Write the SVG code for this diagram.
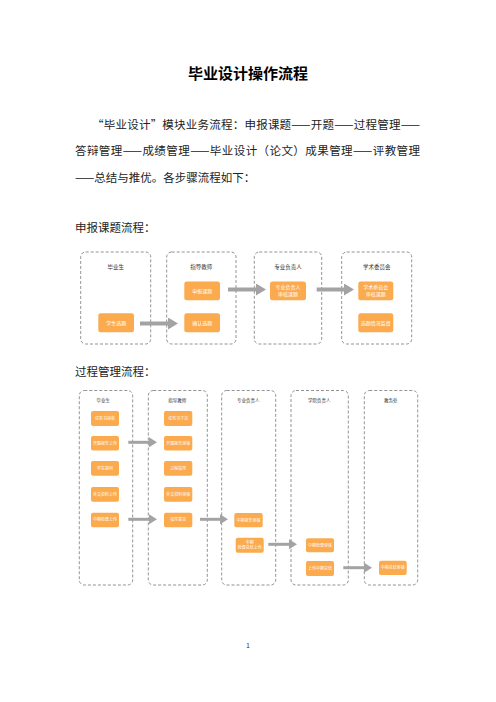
<svg xmlns="http://www.w3.org/2000/svg" width="496" height="702" viewBox="0 0 496 702">
<defs>
<style>
text{font-family:"Noto Sans CJK SC","Liberation Sans",sans-serif;}
.title{font-size:15px;font-weight:bold;fill:#000;text-anchor:middle;}
.para{font-size:11.5px;fill:#222;}
.lane{fill:#fff;stroke:#777;stroke-width:0.8;stroke-dasharray:3,2;}
.box{fill:#FBAA4E;}
.lt1{font-size:5.5px;fill:#333;text-anchor:middle;}
.bt1{font-size:5px;fill:#fff;text-anchor:middle;}
.lt2{font-size:4.5px;fill:#333;text-anchor:middle;}
.bt2{font-size:4px;fill:#fff;text-anchor:middle;}
.arr1{stroke:#A3A3A3;stroke-width:4;fill:none;}
.arr2{stroke:#A3A3A3;stroke-width:3;fill:none;}
</style>
<marker id="ah1" markerUnits="userSpaceOnUse" markerWidth="10" markerHeight="12" refX="1" refY="6" orient="auto">
<path d="M0,0 L10,6 L0,12 Z" fill="#A3A3A3"/>
</marker>
<marker id="ah2" markerUnits="userSpaceOnUse" markerWidth="8" markerHeight="10" refX="1" refY="5" orient="auto">
<path d="M0,0 L8,5 L0,10 Z" fill="#A3A3A3"/>
</marker>
</defs>
<rect width="496" height="702" fill="#fff"/>

<g id="header">
<text class="title" x="248" y="79">毕业设计操作流程</text>
<text class="para" x="92" y="129" textLength="328" lengthAdjust="spacing">“毕业设计”模块业务流程：申报课题——开题——过程管理——</text>
<text class="para" x="75" y="155" textLength="345" lengthAdjust="spacing">答辩管理——成绩管理——毕业设计（论文）成果管理——评教管理</text>
<text class="para" x="75" y="182">——总结与推优。各步骤流程如下：</text>
<text class="para" x="75" y="232">申报课题流程：</text>
<text class="para" x="75" y="376">过程管理流程：</text>
<text x="248" y="648" style="font-size:7px;fill:#333;text-anchor:middle;">1</text>
</g>

<!-- Flow 1 -->
<g id="f1-lane1"><rect class="lane" x="80.7" y="252" width="70" height="92" rx="5"/><text class="lt1" x="115.7" y="268.5">毕业生</text></g>
<g id="f1-lane2"><rect class="lane" x="166.7" y="252" width="69.3" height="92" rx="5"/><text class="lt1" x="201.3" y="268.5">指导教师</text></g>
<g id="f1-lane3"><rect class="lane" x="254.3" y="252" width="67.4" height="92" rx="5"/><text class="lt1" x="288" y="268.5">专业负责人</text></g>
<g id="f1-lane4"><rect class="lane" x="341.7" y="252" width="70" height="92" rx="5"/><text class="lt1" x="376.7" y="268.5">学术委员会</text></g>

<g id="f1-n1"><rect class="box" x="98.3" y="313.3" width="35.7" height="19" rx="2.5"/><text class="bt1" x="116.2" y="324.6">学生选题</text></g>
<g id="f1-n2"><rect class="box" x="184.3" y="281.5" width="35.7" height="18.7" rx="2.5"/><text class="bt1" x="202.2" y="292.6">申报课题</text></g>
<g id="f1-n3"><rect class="box" x="184.3" y="313.3" width="35.7" height="19" rx="2.5"/><text class="bt1" x="202.2" y="324.6">确认选题</text></g>
<g id="f1-n4"><rect class="box" x="270" y="281.5" width="36" height="18.7" rx="2.5"/><text class="bt1" x="288" y="289.4">专业负责人</text><text class="bt1" x="288" y="296">审核课题</text></g>
<g id="f1-n5"><rect class="box" x="358.3" y="281.5" width="35" height="18.7" rx="2.5"/><text class="bt1" x="375.8" y="289.4">学术委员会</text><text class="bt1" x="375.8" y="296">审核课题</text></g>
<g id="f1-n6"><rect class="box" x="358.3" y="313.3" width="35" height="19" rx="2.5"/><text class="bt1" x="375.8" y="324.6">选题情况监督</text></g>

<!-- Flow 2 -->
<g id="f2-lane1"><rect class="lane" x="79.3" y="390.5" width="53.4" height="194.5" rx="5"/><text class="lt2" x="103.3" y="401.5">毕业生</text></g>
<g id="f2-lane2"><rect class="lane" x="148.3" y="390.5" width="59" height="194.5" rx="5"/><text class="lt2" x="177.3" y="401.5">指导教师</text></g>
<g id="f2-lane3"><rect class="lane" x="221.7" y="390.5" width="54" height="194.5" rx="5"/><text class="lt2" x="248.3" y="401.5">专业负责人</text></g>
<g id="f2-lane4"><rect class="lane" x="291" y="390.5" width="57.3" height="194.5" rx="5"/><text class="lt2" x="319.3" y="401.5">学院负责人</text></g>
<g id="f2-lane5"><rect class="lane" x="364.3" y="390.5" width="53.4" height="194.5" rx="5"/><text class="lt2" x="390.7" y="401.5">教务处</text></g>

<g id="f2-a1"><rect class="box" x="91" y="411" width="28" height="15" rx="2"/><text class="bt2" x="105" y="419.9">任务书接收</text></g>
<g id="f2-a2"><rect class="box" x="91" y="436" width="28" height="14.5" rx="2"/><text class="bt2" x="105" y="444.7">开题报告上传</text></g>
<g id="f2-a3"><rect class="box" x="91" y="461" width="28" height="14.7" rx="2"/><text class="bt2" x="105" y="469.8">学生提问</text></g>
<g id="f2-a4"><rect class="box" x="91" y="487" width="28" height="14.7" rx="2"/><text class="bt2" x="105" y="495.8">外文资料上传</text></g>
<g id="f2-a5"><rect class="box" x="91" y="512.7" width="28" height="14.6" rx="2"/><text class="bt2" x="105" y="521.4">中期检查上传</text></g>

<g id="f2-b1"><rect class="box" x="164" y="411" width="28.3" height="15" rx="2"/><text class="bt2" x="178.2" y="419.9">任务书下达</text></g>
<g id="f2-b2"><rect class="box" x="164" y="436" width="28.3" height="14.5" rx="2"/><text class="bt2" x="178.2" y="444.7">开题报告审核</text></g>
<g id="f2-b3"><rect class="box" x="164" y="461" width="28.3" height="14.7" rx="2"/><text class="bt2" x="178.2" y="469.8">过程指导</text></g>
<g id="f2-b4"><rect class="box" x="164" y="487" width="28.3" height="14.7" rx="2"/><text class="bt2" x="178.2" y="495.8">外文资料审核</text></g>
<g id="f2-b5"><rect class="box" x="164" y="512.7" width="28.3" height="14.6" rx="2"/><text class="bt2" x="178.2" y="521.4">指导意见</text></g>

<g id="f2-c1"><rect class="box" x="234.3" y="513" width="28.4" height="14.3" rx="2"/><text class="bt2" x="248.5" y="521.6">中期报告审核</text></g>
<g id="f2-c2"><rect class="box" x="235.7" y="537.7" width="28" height="15" rx="2"/><text class="bt2" x="249.7" y="543.9">中期</text><text class="bt2" x="249.7" y="549.4">检查总结上传</text></g>

<g id="f2-d1"><rect class="box" x="306" y="538.3" width="28" height="14" rx="2"/><text class="bt2" x="320" y="546.7">中期检查审核</text></g>
<g id="f2-d2"><rect class="box" x="306" y="561" width="28" height="15" rx="2"/><text class="bt2" x="320" y="569.9">上传中期总结</text></g>

<g id="f2-e1"><rect class="box" x="379" y="560.7" width="27.7" height="14.3" rx="2"/><text class="bt2" x="392.8" y="569.3">中期总结审核</text></g>

<g id="connectors">
<path class="arr1" d="M140,323.5 H169" marker-end="url(#ah1)"/>
<path class="arr1" d="M228,289.5 H257" marker-end="url(#ah1)"/>
<path class="arr1" d="M316.7,289.5 H345" marker-end="url(#ah1)"/>
<path class="arr2" d="M128.3,442.3 H150" marker-end="url(#ah2)"/>
<path class="arr2" d="M128.3,519.3 H150" marker-end="url(#ah2)"/>
<path class="arr2" d="M200,519.3 H221" marker-end="url(#ah2)"/>
<path class="arr2" d="M268.3,544.3 H290" marker-end="url(#ah2)"/>
<path class="arr2" d="M343.3,567.7 H365" marker-end="url(#ah2)"/>
</g>
</svg>
